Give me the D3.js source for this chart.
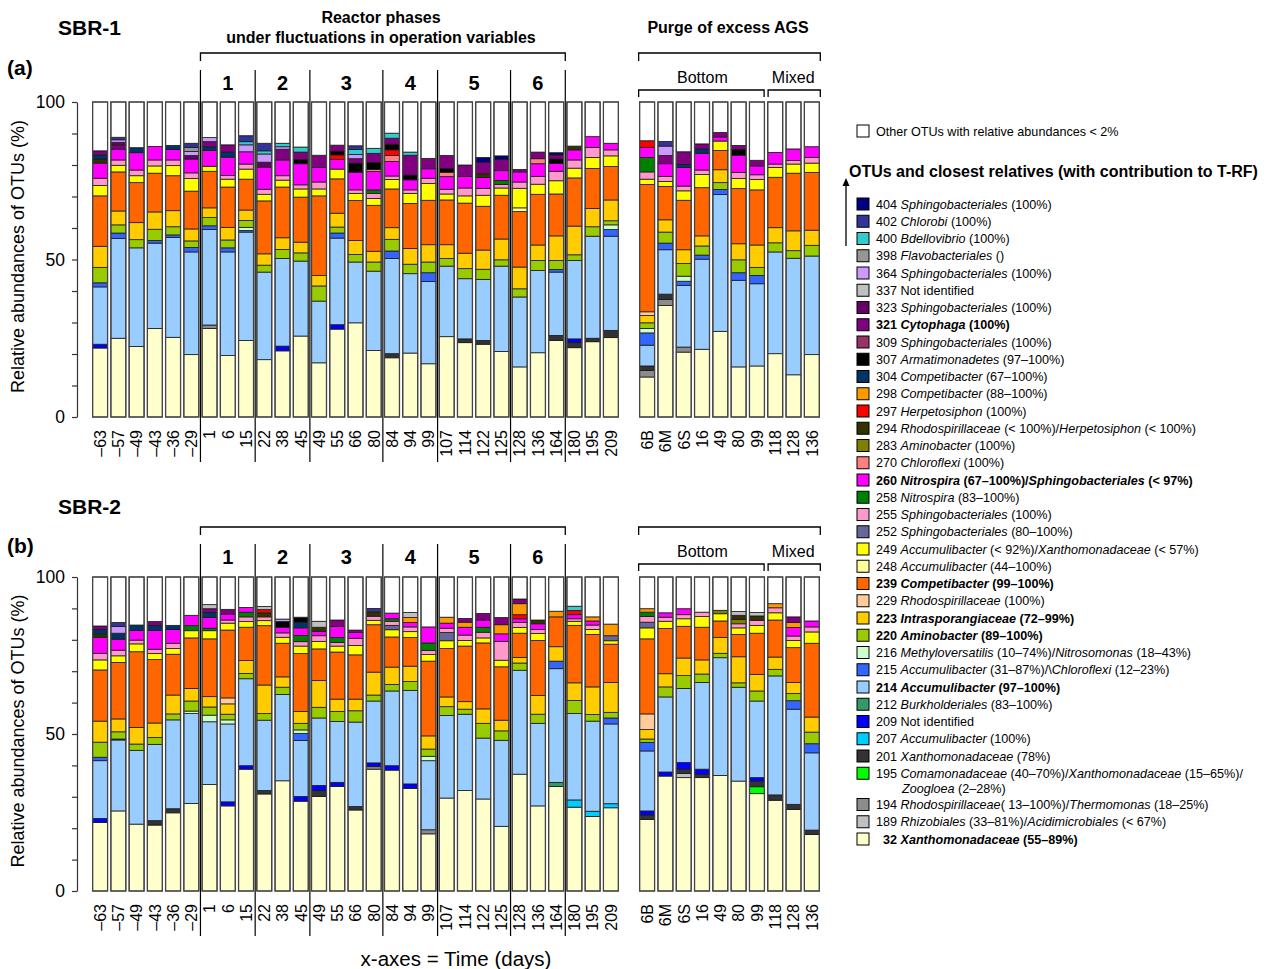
<!DOCTYPE html>
<html>
<head>
<meta charset="utf-8">
<script src="https://cdn.jsdelivr.net/npm/d3@7"></script>
<style>
body { margin: 0; background: #fff; }
svg text { font-family: "Liberation Sans", Arial, sans-serif; fill: #000; }
</style>
</head>
<body>
<div id="chart"></div>
<script>
// sampling days (x categories)
var daysMain = ["–63","–57","–49","–43","–36","–29","1","6","15","22","38","45","49","55","66","80",
  "84","94","99","107","114","122","125","128","136","164","180","195","209"];
var daysPurge = ["6B","6M","6S","16","49","80","99","118","128","136"];
var allDays = daysMain.concat(daysPurge);
var phaseLabels = ["1","2","3","4","5","6"];
var phaseBounds = [6, 9, 12, 16, 19, 23, 26];   // bar index where each phase starts

// OTUs in stacking order (bottom -> top) and their colours
var otuKeys = ["32","189","194","195","201","207","209","212","214","215","216","220","223","229","239",
  "248","249","252","255","258","260","270","283","294","297","298","304","307","309","321","323","337",
  "364","398","400","402","404"];
var otuColors = ["#ffffcc","#c0c0c0","#8c8c8c","#00ff00","#333333","#00ccff","#0000ff","#339966","#99ccff",
  "#3366ff","#ccffcc","#99cc00","#ffcc00","#ffcc99","#ff6600","#ffff99","#ffff00","#666699","#ff99cc",
  "#008000","#ff00ff","#ff8080","#808000","#333300","#ff0000","#ff9900","#003366","#000000","#993366",
  "#800080","#660066","#c0c0c0","#cc99ff","#969696","#33cccc","#333399","#000080"];

// ---- SBR-1 (a): abundant OTUs, one value per bar ----
var a32  = [21.9,25.0,22.4,28.1,25.3,19.8,28.1,19.5,24.3,18.2,21.0,25.7,17.2,27.9,29.9,21.1,18.8,20.3,16.9,25.5,23.6,23.1,20.8,15.9,20.4,24.3,22.0,23.9,25.2, 12.7,35.4,20.6,21.5,27.2,15.9,16.2,20.1,13.4,19.8];
var a214 = [18.2,31.7,31.3,27.1,31.7,32.6,30.3,32.9,34.4,27.8,27.8,23.8,19.6,27.5,19.3,25.2,30.2,25.2,26.1,22.4,19.1,19.4,27.1,22.2,26.1,20.1,24.9,32.4,29.9, 6.6,14.1,19.6,28.6,43.4,27.5,26.1,32.3,37.0,31.3];
var a220 = [4.9,2.6,2.6,3.6,2.6,2.1,2.6,2.5,2.2,2.2,2.9,2.6,4.8,1.9,2.4,2.9,3.7,3.0,3.4,2.4,3.2,3.2,2.0,2.6,3.2,2.9,1.8,3.0,1.3, 1.8,3.5,4.0,2.9,2.2,4.1,2.6,2.9,2.4,3.4];
var a223 = [6.7,4.4,5.4,5.5,5.1,3.8,3.1,4.0,3.3,3.6,3.7,3.4,3.3,4.4,4.4,3.4,3.7,5.0,5.5,4.4,4.9,6.1,6.6,6.9,4.9,7.8,9.1,5.8,6.6, 2.3,3.9,4.4,3.2,4.1,5.1,7.1,4.8,6.3,4.8];
var a239 = [16.0,12.4,12.7,12.3,11.1,12.0,11.6,12.8,9.8,16.8,16.1,14.3,25.3,10.9,12.7,14.6,12.3,14.3,14.1,14.2,15.9,13.9,13.9,17.6,16.1,13.3,15.3,12.7,10.6, 40.4,10.6,15.7,15.3,6.1,17.5,17.5,16.0,18.3,18.3];
var a249 = [3.3,2.1,2.2,2.3,3.2,4.0,1.6,2.5,3.2,2.1,2.2,2.6,2.2,3.1,2.3,2.2,3.0,3.2,5.3,1.9,2.3,3.5,2.3,6.2,3.2,4.2,3.1,3.5,3.4, 1.7,1.6,3.0,4.2,3.0,3.2,3.3,3.1,2.9,3.0];
var a255 = [2.3,1.7,1.8,1.9,1.8,1.8,0,1.2,1.6,1.6,1.4,1.3,2.2,0,1.1,1.6,1.1,1.1,1.7,1.5,2.5,2.2,1.1,2.0,2.5,3.0,2.6,3.2,1.9, 2.3,1.6,1.5,1.4,0,1.9,1.5,1.1,1.1,1.8];
var a260 = [4.8,3.4,5.5,4.3,3.3,4.4,5.0,5.8,3.9,7.0,5.0,6.7,4.6,3.1,5.6,5.8,4.6,3.2,3.0,4.0,3.7,3.4,3.1,3.2,4.0,2.5,3.2,3.4,2.1, 3.2,4.0,5.9,5.3,1.3,5.5,2.8,3.7,3.7,3.4];
// minor OTUs: [otu, bar index, %]
var aMinor = [
  ["194",6,1.1],["194",29,2.1],["194",30,1.9],["194",31,1.6],
  ["201",16,1.3],["201",20,1.2],["201",21,1.2],["201",25,1.6],["201",26,1.6],["201",27,1.1],["201",28,2.3],["201",29,1.4],["201",30,1.7],
  ["209",0,1.2],["209",10,1.5],["209",13,1.4],["209",26,1.2],
  ["215",0,1.3],["215",1,1.7],["215",3,0.8],["215",4,0.8],["215",5,1.4],["215",6,1.2],["215",7,1.3],["215",8,0.5],["215",13,1.6],
  ["215",16,2.4],["215",18,2.8],["215",25,0.8],["215",28,2.1],["215",29,3.9],["215",30,2.1],["215",31,1.3],["215",32,1.3],
  ["215",33,1.6],["215",34,2.4],["215",35,2.6],
  ["216",8,1.0],["216",28,1.5],["216",29,1.4],["216",31,1.6],
  ["229",29,1.2],["248",23,1.2],
  ["258",15,1.1],["258",22,1.3],["258",29,4.6],
  ["270",15,0.7],["270",16,1.9],["270",19,1.4],["270",24,1.6],
  ["294",0,1.3],["294",21,1.2],["294",26,1.2],
  ["297",13,1.4],["297",16,1.8],["297",29,2.1],
  ["304",0,1.3],["304",2,1.6],["304",4,1.3],["304",6,1.2],["304",7,1.6],["304",31,1.0],["304",32,1.4],
  ["307",11,1.3],["307",13,1.2],["307",14,2.9],["307",15,2.2],["307",16,1.8],["307",17,1.5],["307",19,1.2],["307",25,1.4],["307",34,1.8],
  ["321",0,1.3],["321",1,1.4],["321",6,1.6],["321",7,2.3],["321",10,3.4],["321",11,2.4],["321",12,3.9],["321",13,1.9],["321",14,1.4],
  ["321",15,2.9],["321",16,1.9],["321",17,6.3],["321",18,3.3],["321",19,4.1],["321",20,3.6],["321",21,3.7],["321",22,3.6],["321",23,0.8],
  ["321",24,2.1],["321",25,1.3],["321",30,2.6],["321",31,4.0],["321",32,1.6],["321",33,1.4],["321",34,1.3],["321",35,1.8],
  ["323",1,0.8],["323",5,1.1],["323",9,1.6],
  ["364",1,0.8],["364",5,1.3],["364",6,1.3],["364",8,2.2],["364",9,2.6],["364",10,0.8],["364",14,1.3],["364",30,3.0],
  ["398",5,1.3],
  ["400",8,1.0],["400",9,1.0],["400",10,1.1],["400",11,1.6],["400",14,1.6],["400",15,1.6],["400",16,1.6],["400",17,1.0],
  ["402",1,0.8],["402",5,1.3],["402",8,1.9],["402",9,2.4],["402",14,1.2],["402",30,1.5],
  ["404",21,1.5],["404",22,1.1],["404",25,0.7]
];

// ---- SBR-2 (b) ----
var b32  = [21.8,25.5,21.3,21.0,24.9,27.9,33.9,27.1,38.8,30.9,35.1,28.6,30.1,33.3,25.8,38.8,38.5,32.7,18.2,29.6,32.0,29.3,20.6,37.2,27.1,33.3,26.7,23.7,26.5, 22.8,36.6,36.1,36.1,36.8,35.0,31.0,28.9,26.0,18.0];
var b214 = [18.4,22.6,23.5,24.3,28.3,28.6,20.0,24.8,27.7,22.4,27.5,17.8,21.5,19.4,26.9,19.7,23.8,29.8,22.0,26.3,24.3,19.4,27.4,33.1,26.3,36.2,27.5,28.7,25.4, 19.1,23.9,23.6,27.6,37.5,29.9,24.4,37.9,30.3,24.6];
var b220 = [4.8,2.3,2.0,2.2,1.9,3.2,2.6,1.8,1.7,2.1,2.3,2.1,3.4,3.2,3.6,1.9,2.1,2.8,2.3,2.8,1.6,4.7,3.0,2.3,2.9,0,4.2,2.1,1.8, 1.1,3.2,4.1,2.7,1.4,1.4,3.2,2.1,2.3,3.7];
var b223 = [6.7,4.1,5.3,4.6,6.0,4.0,3.3,3.3,4.1,9.1,3.3,3.8,8.5,3.9,3.7,7.3,5.5,4.9,4.2,3.1,2.4,4.6,3.4,1.8,6.0,4.6,5.6,8.8,9.5, 3.0,4.2,5.6,4.5,5.0,8.3,5.3,3.9,3.5,4.8];
var b239 = [16.3,18.0,24.1,20.2,13.0,16.1,18.4,21.6,10.6,18.9,10.7,18.4,10.1,15.0,14.1,15.1,9.6,9.1,23.8,15.4,17.7,21.0,17.0,7.7,17.5,9.5,18.3,16.7,12.2, 23.9,14.4,10.1,10.4,5.3,7.1,13.1,11.8,11.1,23.5];
var b249 = [3.2,2.1,2.5,1.9,1.8,2.3,2.6,2.2,1.8,1.6,1.9,2.4,2.4,1.9,3.0,1.4,2.3,1.9,2.1,2.5,1.8,1.6,2.1,1.8,2.2,0,1.3,1.6,1.1, 3.5,2.3,2.4,3.4,2.3,2.1,2.5,2.3,2.3,3.6];
var b255 = [2.1,1.8,1.2,1.4,1.7,0,0,1.0,1.5,1.2,1.4,1.4,1.8,1.1,2.3,1.3,1.3,1.5,1.3,1.4,1.7,1.8,6.0,1.6,1.3,0,0.8,1.4,0, 1.8,1.3,1.3,1.4,0,1.3,1.6,1.6,1.4,1.6];
var b260 = [5.1,3.5,3.1,6.0,4.4,3.3,3.4,1.9,1.5,0,1.8,2.4,1.4,3.5,1.8,0,1.8,1.4,5.1,1.6,2.5,2.3,2.4,1.2,1.8,0,1.3,1.3,0, 0,1.4,1.9,0,0,0,0,0,2.7,1.9];
var bMinor = [
  ["189",31,1.3],["194",15,0.8],["194",18,1.3],["195",35,2.2],
  ["201",3,1.4],["201",4,1.3],["201",9,1.1],["201",12,1.9],["201",14,1.1],["201",29,1.4],["201",31,1.4],["201",32,1.1],
  ["201",35,1.8],["201",36,1.7],["201",37,1.6],["201",38,1.4],
  ["207",26,2.3],["207",27,1.7],["207",28,1.3],
  ["209",0,1.3],["209",7,1.3],["209",8,1.1],["209",11,1.5],["209",12,1.6],["209",13,1.3],["209",15,1.2],["209",16,1.4],["209",17,1.4],
  ["209",29,1.3],["209",30,1.3],["209",31,2.1],["209",32,1.6],["209",35,1.1],
  ["212",25,1.3],
  ["215",0,1.1],["215",1,0.3],["215",11,2.3],["215",25,2.4],["215",28,1.9],["215",29,2.7],["215",37,2.7],["215",38,2.9],
  ["216",5,0.8],["216",6,2.1],["216",7,1.3],["216",11,1.1],["216",18,1.4],
  ["229",7,1.9],["229",29,5.0],
  ["252",16,1.4],["252",19,2.6],["252",28,1.6],["252",29,1.8],
  ["258",5,1.6],["258",6,0.8],["258",8,1.5],["258",11,2.0],["258",13,1.6],["258",16,0.8],["258",18,2.4],["258",21,1.6],["258",29,1.4],
  ["283",33,1.1],["283",34,1.4],
  ["294",0,1.1],["294",9,1.3],["294",12,1.3],["294",15,1.4],["294",24,1.2],["294",34,1.3],["294",35,1.4],
  ["297",9,1.0],["297",23,1.3],["297",26,1.3],
  ["298",17,1.6],["298",19,1.9],["298",20,1.6],["298",22,2.9],["298",23,3.5],["298",25,1.8],["298",27,1.3],["298",28,3.7],
  ["298",29,1.1],["298",36,1.3],["298",37,1.6],
  ["304",0,1.4],["304",1,1.9],["304",2,1.7],["304",3,1.6],["304",4,1.3],["304",6,1.6],["304",11,1.8],
  ["307",10,1.8],["307",11,1.6],
  ["321",0,1.1],["321",3,1.2],["321",6,1.2],["321",7,1.5],["321",13,2.1],["321",14,0.8],["321",20,1.2],["321",21,2.1],
  ["321",22,2.3],["321",23,1.5],["321",37,1.8],
  ["337",6,1.3],["337",9,1.0],["337",12,1.9],["337",17,1.6],["337",34,1.2],["337",35,1.1],
  ["364",1,2.1],["364",10,0.8],["400",26,1.4],["402",1,1.3],["402",15,1.1]
];

// legend (top -> bottom), *...* = italic, | = line break
var legendLabels = [
  "404 *Sphingobacteriales* (100%)", "402 *Chlorobi* (100%)", "400 *Bdellovibrio* (100%)",
  "398 *Flavobacteriales* ()", "364 *Sphingobacteriales* (100%)", "337 Not identified",
  "323 *Sphingobacteriales* (100%)", "321 *Cytophaga* (100%)", "309 *Sphingobacteriales* (100%)",
  "307 *Armatimonadetes* (97–100%)", "304 *Competibacter* (67–100%)", "298 *Competibacter* (88–100%)",
  "297 *Herpetosiphon* (100%)", "294 *Rhodospirillaceae* (< 100%)/*Herpetosiphon* (< 100%)",
  "283 *Aminobacter* (100%)", "270 *Chloroflexi* (100%)",
  "260 *Nitrospira* (67–100%)/*Sphingobacteriales* (< 97%)", "258 *Nitrospira* (83–100%)",
  "255 *Sphingobacteriales* (100%)", "252 *Sphingobacteriales* (80–100%)",
  "249 *Accumulibacter* (< 92%)/*Xanthomonadaceae* (< 57%)", "248 *Accumulibacter* (44–100%)",
  "239 *Competibacter* (99–100%)", "229 *Rhodospirillaceae* (100%)", "223 *Intrasporangiaceae* (72–99%)",
  "220 *Aminobacter* (89–100%)", "216 *Methyloversatilis* (10–74%)/*Nitrosomonas* (18–43%)",
  "215 *Accumulibacter* (31–87%)/\\*Chloroflexi* (12–23%)", "214 *Accumulibacter* (97–100%)",
  "212 *Burkholderiales* (83–100%)", "209 Not identified", "207 *Accumulibacter* (100%)",
  "201 *Xanthomonadaceae* (78%)", "195 *Comamonadaceae* (40–70%)/*Xanthomonadaceae* (15–65%)/|*Zoogloea* (2–28%)",
  "194 *Rhodospirillaceae*( 13–100%)/*Thermomonas* (18–25%)", "189 *Rhizobiales* (33–81%)/*Acidimicrobiales* (< 67%)",
  "32 *Xanthomonadaceae* (55–89%)"
];
var legendBold = ["321","260","239","223","220","214","32"];

var svgWidth = 1269;
var svgHeight = 969;

var svg = d3.select("#chart")
  .append("svg")
  .attr("width", svgWidth)
  .attr("height", svgHeight);

// x scales: main run and purge samples
var xMain = d3.scaleBand().domain(d3.range(29)).range([91, 620]).paddingInner(0.18).paddingOuter(0.09);
var xPurge = d3.scaleBand().domain(d3.range(29, 39)).range([638, 821]).paddingInner(0.18).paddingOuter(0.09);
function xOf(i) { return i < 29 ? xMain(i) : xPurge(i); }
var bw = xMain.bandwidth();
var gapHalf = (xMain.step() - bw) / 2;

function buildRows(dense, minor) {
  var rows = allDays.map(function(d, i) {
    var r = { idx: i };
    otuKeys.forEach(function(k) { r[k] = 0; });
    return r;
  });
  Object.keys(dense).forEach(function(k) {
    dense[k].forEach(function(v, i) { rows[i][k] = v; });
  });
  minor.forEach(function(m) { rows[m[1]][m[0]] += m[2]; });
  rows.forEach(function(r) {
    r.other = Math.max(0, 100 - d3.sum(otuKeys, function(k) { return r[k]; }));
  });
  return rows;
}

var rowsA = buildRows({ "32": a32, "214": a214, "220": a220, "223": a223, "239": a239, "249": a249, "255": a255, "260": a260 }, aMinor);
var rowsB = buildRows({ "32": b32, "214": b214, "220": b220, "223": b223, "239": b239, "249": b249, "255": b255, "260": b260 }, bMinor);

var stackKeys = otuKeys.concat(["other"]);
var colorOf = d3.scaleOrdinal().domain(stackKeys).range(otuColors.concat(["#ffffff"]));

function bracket(g, x0, x1, y, drop) {
  g.append("path")
    .attr("d", "M" + x0 + "," + (y + drop) + "V" + y + "H" + x1 + "V" + (y + drop))
    .attr("fill", "none").attr("stroke", "#000").attr("stroke-width", 1.3);
}

function drawPanel(rows, yTop, yBottom, off) {
  var y = d3.scaleLinear().domain([0, 100]).range([yBottom, yTop]);
  var g = svg.append("g");

  // phase separators
  var sepX = phaseBounds.map(function(b) { return xMain(b) - gapHalf; });
  g.selectAll(".sep").data(sepX).enter().append("line")
    .attr("x1", function(d) { return d; }).attr("x2", function(d) { return d; })
    .attr("y1", off + 70).attr("y2", yBottom + 45)
    .attr("stroke", "#000").attr("stroke-width", 1.2);

  // phase numbers
  g.selectAll(".phase").data(phaseLabels).enter().append("text")
    .attr("x", function(d, i) { return (sepX[i] + sepX[i + 1]) / 2; })
    .attr("y", off + 90)
    .attr("text-anchor", "middle")
    .style("font-size", "20px").style("font-weight", "bold")
    .text(function(d) { return d; });

  bracket(g, sepX[0], sepX[sepX.length - 1], off + 53, 8);
  var p0 = xPurge(29) - 1, p1 = xPurge(38) + bw + 1;
  bracket(g, p0, p1, off + 53, 8);
  var split = xPurge(36) - gapHalf;
  bracket(g, p0, split - 2, off + 90, 7);
  bracket(g, split + 2, p1, off + 90, 7);
  g.append("text").attr("x", (p0 + split) / 2).attr("y", off + 83).attr("text-anchor", "middle")
    .style("font-size", "16px").text("Bottom");
  g.append("text").attr("x", (split + p1) / 2).attr("y", off + 83).attr("text-anchor", "middle")
    .style("font-size", "16px").text("Mixed");

  // stacked bars
  var series = d3.stack().keys(stackKeys)(rows);
  g.selectAll(".layer").data(series).enter().append("g")
    .attr("fill", function(d) { return colorOf(d.key); })
    .selectAll("rect").data(function(d) { return d.filter(function(s) { return s[1] - s[0] > 0; }); })
    .enter().append("rect")
    .attr("x", function(d) { return xOf(d.data.idx); })
    .attr("width", bw)
    .attr("y", function(d) { return y(d[1]); })
    .attr("height", function(d) { return y(d[0]) - y(d[1]); })
    .attr("stroke", "#1a1a1a").attr("stroke-width", 0.8);

  g.selectAll(".outline").data(rows).enter().append("rect")
    .attr("x", function(d) { return xOf(d.idx); })
    .attr("width", bw)
    .attr("y", y(100)).attr("height", y(0) - y(100))
    .attr("fill", "none").attr("stroke", "#444").attr("stroke-width", 1.3);

  // y axis
  var yAxis = g.append("g")
    .attr("transform", "translate(77,0)")
    .call(d3.axisLeft(y).tickValues(d3.range(0, 101, 10)).tickSize(5).tickSizeOuter(0).tickPadding(7)
      .tickFormat(function(d) { return d % 50 === 0 ? d : ""; }));
  yAxis.selectAll("text").style("font-size", "17.5px");
  yAxis.selectAll("line, path").attr("stroke", "#333").attr("stroke-width", 1.2);

  g.append("text")
    .attr("transform", "translate(24," + ((yTop + yBottom) / 2 - 3) + ") rotate(-90)")
    .attr("text-anchor", "middle")
    .style("font-size", "18px")
    .text("Relative abundances of OTUs (%)");

  // rotated day labels
  [[xMain, d3.range(29)], [xPurge, d3.range(29, 39)]].forEach(function(s) {
    var ax = g.append("g")
      .attr("transform", "translate(0," + yBottom + ")")
      .call(d3.axisBottom(s[0]).tickSize(0).tickFormat(function(i) { return allDays[i]; }));
    ax.select(".domain").remove();
    ax.selectAll("text")
      .attr("transform", "rotate(-90)")
      .attr("x", -13).attr("y", 0).attr("dy", "0.36em")
      .style("text-anchor", "end")
      .style("font-size", "16px");
  });
}

drawPanel(rowsA, 102, 417, 0);
drawPanel(rowsB, 577, 891, 474);

// titles
svg.append("text").attr("x", 58).attr("y", 35).style("font-size", "21px").style("font-weight", "bold").text("SBR-1");
svg.append("text").attr("x", 7).attr("y", 75).style("font-size", "21px").style("font-weight", "bold").text("(a)");
svg.append("text").attr("x", 58).attr("y", 514).style("font-size", "21px").style("font-weight", "bold").text("SBR-2");
svg.append("text").attr("x", 7).attr("y", 553).style("font-size", "21px").style("font-weight", "bold").text("(b)");
svg.append("text").attr("x", 381).attr("y", 23).attr("text-anchor", "middle")
  .style("font-size", "16px").style("font-weight", "bold").text("Reactor phases");
svg.append("text").attr("x", 381).attr("y", 43).attr("text-anchor", "middle")
  .style("font-size", "16px").style("font-weight", "bold").text("under fluctuations in operation variables");
svg.append("text").attr("x", 728).attr("y", 33).attr("text-anchor", "middle")
  .style("font-size", "16px").style("font-weight", "bold").text("Purge of excess AGS");
svg.append("text").attr("x", 456).attr("y", 966).attr("text-anchor", "middle")
  .style("font-size", "20.5px").text("x-axes = Time (days)");

// legend
var legend = svg.append("g");
legend.append("rect").attr("x", 857).attr("y", 125).attr("width", 12).attr("height", 12)
  .attr("fill", "#fff").attr("stroke", "#000");
legend.append("text").attr("x", 876).attr("y", 135.5).style("font-size", "12.6px")
  .text("Other OTUs with relative abundances < 2%");
legend.append("text").attr("x", 849).attr("y", 177).style("font-size", "16px").style("font-weight", "bold")
  .text("OTUs and closest relatives (with contribution to T-RF)");
legend.append("line").attr("x1", 846).attr("x2", 846).attr("y1", 246).attr("y2", 184)
  .attr("stroke", "#000").attr("stroke-width", 1.3);
legend.append("path").attr("d", "M842.5,186 L846,178 L849.5,186 Z").attr("fill", "#000");

var legendKeys = otuKeys.slice().reverse();
legendKeys.forEach(function(k, i) {
  var cy = 204 + 17.25 * i + (i > 33 ? 14 : 0);
  legend.append("rect").attr("x", 857).attr("y", cy - 6).attr("width", 12).attr("height", 12)
    .attr("fill", colorOf(k)).attr("stroke", "#000");
  var bold = legendBold.indexOf(k) >= 0;
  legendLabels[i].split("|").forEach(function(line, li) {
    var t = legend.append("text")
      .attr("x", li === 0 ? (k === "32" ? 883 : 876) : 902)
      .attr("y", cy + 4.5 + li * 15)
      .style("font-size", "12.6px")
      .style("font-weight", bold ? "bold" : "normal");
    line.split("*").forEach(function(part, pi) {
      if (part === "") return;
      t.append("tspan").style("font-style", pi % 2 === 1 ? "italic" : "normal").text(part);
    });
  });
});
</script>
</body>
</html>
